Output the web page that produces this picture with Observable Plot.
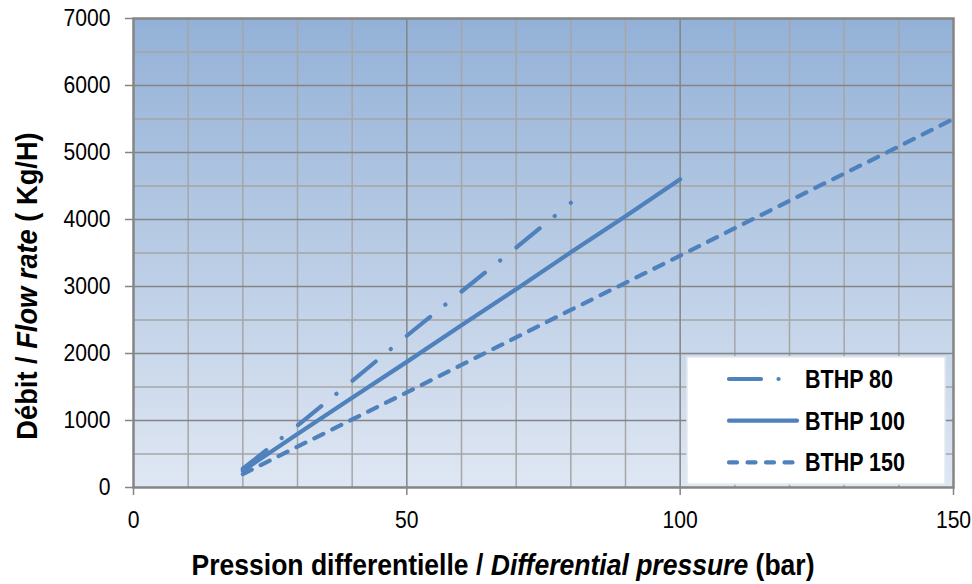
<!DOCTYPE html>
<html>
<head>
<meta charset="utf-8">
<script src="https://cdn.jsdelivr.net/npm/d3@7"></script>
<script src="https://cdn.jsdelivr.net/npm/@observablehq/plot@0.6"></script>
<style>
  html, body { margin: 0; padding: 0; background: #fff; }
  #chart svg { display: block; }
</style>
</head>
<body>
<div id="chart"></div>
<script>
// ---- data ----
const seriesNames = ["BTHP 80", "BTHP 100", "BTHP 150"];
const bthp80X = [20, 30, 40, 50, 60, 70, 80];
const bthp80Y = [280, 925, 1590, 2265, 2925, 3580, 4250];
const bthp100X = [20, 30, 40, 50, 60, 70, 80, 90, 100];
const bthp100Y = [250, 800, 1340, 1875, 2420, 2960, 3510, 4050, 4600];
const bthp150X = [20, 30, 40, 50, 60, 70, 80, 90, 100, 110, 120, 130, 140, 150];
const bthp150Y = [200, 610, 1015, 1420, 1830, 2240, 2650, 3055, 3460, 3870, 4280, 4685, 5090, 5500];
const xTicks = [0, 50, 100, 150];
const yTicks = [0, 1000, 2000, 3000, 4000, 5000, 6000, 7000];
const xMinorGrid = [10, 20, 30, 40, 60, 70, 80, 90, 110, 120, 130, 140];
const xMajorGrid = [50, 100];
const yMinorGrid = [500, 1500, 2500, 3500, 4500, 5500, 6500];
const yMajorGrid = [1000, 2000, 3000, 4000, 5000, 6000];

const toRows = (name, xs, ys) => xs.map((x, i) => ({series: name, x, y: ys[i]}));
const rows80 = toRows(seriesNames[0], bthp80X, bthp80Y);
const rows100 = toRows(seriesNames[1], bthp100X, bthp100Y);
const rows150 = toRows(seriesNames[2], bthp150X, bthp150Y);

const blue = "#4f81bd";
const dash80 = "30,19.5,0.1,20.78";
const dash150 = "10,10";
const font = "'Liberation Sans', Arial, sans-serif";
const narrow = 0.88;

const chart = Plot.plot({
  width: 972,
  height: 584,
  marginLeft: 133,
  marginRight: 19,
  marginTop: 18,
  marginBottom: 97,
  style: {fontFamily: font, fontSize: "24px", color: "#000", background: "#fff"},
  x: {domain: [0, 150]},
  y: {domain: [0, 7000]},
  marks: [
    Plot.frame({fill: "url(#bgGrad)", stroke: "none"}),
    Plot.gridX(xMinorGrid, {stroke: "#a6a6a6", strokeOpacity: 1, strokeWidth: 1.5}),
    Plot.gridY(yMinorGrid, {stroke: "#a6a6a6", strokeOpacity: 1, strokeWidth: 1.5}),
    Plot.gridX(xMajorGrid, {stroke: "#858585", strokeOpacity: 1, strokeWidth: 1.5}),
    Plot.gridY(yMajorGrid, {stroke: "#858585", strokeOpacity: 1, strokeWidth: 1.5}),
    Plot.line(rows150, {x: "x", y: "y", stroke: blue, strokeWidth: 4.2, strokeDasharray: dash150, strokeLinecap: "round"}),
    Plot.line(rows100, {x: "x", y: "y", stroke: blue, strokeWidth: 4.2, strokeLinecap: "round"}),
    Plot.line(rows80, {x: "x", y: "y", stroke: blue, strokeWidth: 4.2, strokeDasharray: dash80, strokeLinecap: "round"}),
    Plot.axisY({ticks: yTicks, tickSize: 8, tickPadding: 15, stroke: "#858585", strokeWidth: 1.5, label: null, tickFormat: d => String(d), fontSize: 24}),
    Plot.axisX({ticks: xTicks, tickSize: 8, tickPadding: 15, stroke: "#858585", strokeWidth: 1.5, label: null, tickFormat: d => String(d), fontSize: 24}),
    Plot.frame({stroke: "#858585", strokeWidth: 2.5})
  ]
});

const svg = d3.select(chart);
// narrow (Arial Narrow-like) tick labels
svg.selectAll("g[aria-label='y-axis tick label'] text, g[aria-label='x-axis tick label'] text")
  .attr("transform", function() { return (this.getAttribute("transform") || "") + ` scale(${narrow},1)`; });

const defs = svg.insert("defs", ":first-child");
const g = defs.append("linearGradient").attr("id", "bgGrad").attr("x1", 0).attr("y1", 0).attr("x2", 0).attr("y2", 1);
g.append("stop").attr("offset", "0%").attr("stop-color", "#93b1d7");
g.append("stop").attr("offset", "100%").attr("stop-color", "#dfe7f3");

// axis titles
const xt = svg.append("text")
  .attr("transform", `translate(503,575) scale(0.915,1)`)
  .attr("text-anchor", "middle")
  .attr("font-family", font).attr("font-size", 29).attr("font-weight", "bold").attr("fill", "#000");
xt.append("tspan").text("Pression differentielle / ");
xt.append("tspan").attr("font-style", "italic").text("Differential pressure");
xt.append("tspan").text(" (bar)");

const yt = svg.append("text")
  .attr("transform", `translate(37,286) rotate(-90) scale(0.94,1)`)
  .attr("text-anchor", "middle")
  .attr("font-family", font).attr("font-size", 29).attr("font-weight", "bold").attr("fill", "#000");
yt.append("tspan").text("Débit / ");
yt.append("tspan").attr("font-style", "italic").text("Flow rate");
yt.append("tspan").text(" ( Kg/H)");

// legend
const lg = svg.append("g");
lg.append("rect").attr("x", 687).attr("y", 357).attr("width", 258).attr("height", 127)
  .attr("fill", "#fff").attr("stroke", "#e4e9f1").attr("stroke-width", 1.5);
const legendDashL = ["32,17.5,0.1,100", null, "8,10.5"];
seriesNames.forEach((name, i) => {
  const yy = 379 + i * 41.7;
  lg.append("line").attr("x1", 729).attr("x2", 797).attr("y1", yy).attr("y2", yy)
    .attr("stroke", blue).attr("stroke-width", 4.2).attr("stroke-linecap", "round")
    .attr("stroke-dasharray", legendDashL[i]);
  lg.append("text").attr("transform", `translate(805,${yy}) scale(0.86,1)`).attr("dy", "0.36em")
    .attr("text-anchor", "start")
    .attr("font-family", font).attr("font-size", 25).attr("font-weight", "bold").attr("fill", "#000")
    .text(name);
});

document.getElementById("chart").appendChild(chart);
</script>
</body>
</html>
